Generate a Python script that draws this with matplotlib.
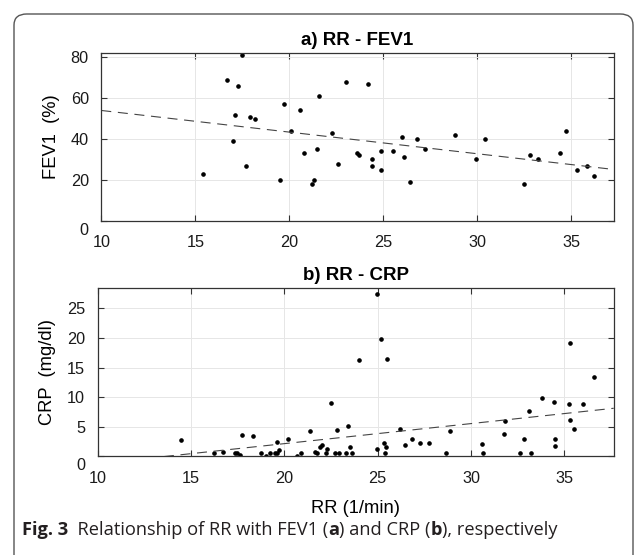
import matplotlib
matplotlib.use("Agg")
import matplotlib.pyplot as plt
import numpy as np
from matplotlib.patches import FancyBboxPatch
import matplotlib.transforms as mtransforms

# ---------------- data ----------------
rr_a = [17.5, 16.69, 17.29, 17.1, 17.9, 18.19, 16.99, 17.68, 15.39, 19.7, 20.59, 20.11,
        19.49, 21.6, 20.8, 21.5, 22.59, 22.29, 21.3, 21.19, 23.02, 24.2, 23.58, 23.7,
        24.4, 24.4, 24.89, 24.89, 25.5, 26.0, 26.1, 26.4, 26.8, 27.2, 28.81, 29.91,
        30.41, 32.5, 32.8, 33.21, 34.4, 34.72, 35.32, 35.82, 36.22]
fev1 = [81, 69, 66, 52, 51, 50, 39, 27, 23, 57, 54, 44,
        20, 61, 33, 35, 28, 43, 20, 18, 68, 67, 33, 32,
        30, 27, 34, 25, 34, 41, 31, 19, 40, 35, 42, 30,
        40, 18, 32, 30, 33, 44, 25, 27, 22]

rr_b = [24.98, 23.98, 22.5, 21.39, 22.81, 23.4, 17.73, 18.34, 14.45, 20.21,
        25.2, 25.5, 35.3, 36.6, 33.82, 34.43, 35.23, 36.0, 33.12, 35.3, 35.52,
        31.84, 26.18, 28.86, 31.75, 26.86, 32.82, 34.5,
        19.62, 16.25, 16.73, 17.36, 17.45, 17.63, 18.74, 19.02, 19.23, 19.52, 19.6,
        19.73, 20.66, 20.91,
        21.64, 21.77, 21.9, 22.02, 22.23, 22.3, 22.72, 22.93, 23.29, 23.5, 23.6,
        24.98, 25.32, 25.43, 25.4, 26.48, 27.27, 27.77, 28.66,
        30.57, 30.66, 32.64, 33.23, 34.5]
crp = [27.5, 16.3, 9.0, 4.3, 4.5, 5.1, 3.6, 3.4, 2.8, 2.9,
       19.8, 16.5, 19.1, 13.4, 9.9, 9.2, 8.8, 8.8, 7.7, 6.2, 4.6,
       5.9, 4.6, 4.3, 3.8, 3.0, 3.0, 3.0,
       2.5, 0.5, 0.8, 0.5, 0.5, 0.27, 0.5, 0.1, 0.5, 0.5, 0.56,
       1.06, 0.1, 0.6,
       0.8, 0.5, 1.5, 1.9, 0.6, 1.2, 0.5, 0.5, 0.5, 1.6, 0.5,
       1.2, 2.2, 1.5, 0.5, 1.9, 2.2, 2.25, 0.5,
       2.1, 0.5, 0.5, 0.5, 1.7]

# regression lines: (value at RR=10, slope)
fit_a = (54.0, -1.06)
fit_b = (-1.25, 0.339)

yticks_a = [0, 20, 40, 60, 80]
yticks_b = [0, 5, 10, 15, 20, 25]
xticks = [10, 15, 20, 25, 30, 35]

title_a = "a) RR - FEV1"
title_b = "b) RR - CRP"
ylabel_a = "FEV1  (%)"
ylabel_b = "CRP  (mg/dl)"
xlabel_b = "RR (1/min)"

# ---------------- figure ----------------
W, H = 635, 555
fig = plt.figure(figsize=(W / 100, H / 100), dpi=100)
fig.patch.set_facecolor("white")

frame = FancyBboxPatch((14 / W, -20 / H), (W - 14 - 2) / W, (H - 14 + 20) / H,
                       boxstyle="round,pad=0,rounding_size=0.02",
                       transform=fig.transFigure, facecolor="none",
                       edgecolor="#555555", linewidth=1.0, clip_on=False)
fig.patches.append(frame)

SANS = ["Liberation Sans", "DejaVu Sans"]
TICK = 11.7
LAB = 13.2


def style(ax, ylim, yticks, xlim):
    ax.set_xlim(*xlim)
    ax.set_ylim(*ylim)
    ax.set_xticks(xticks)
    ax.set_yticks(yticks)
    ax.grid(True, color="#e6e6e6", linewidth=0.7)
    ax.set_axisbelow(True)
    ax.tick_params(direction="in", top=True, right=True, length=4, width=0.8,
                   color="#333333", labelsize=TICK)
    ax.tick_params(axis="y", pad=9)
    ax.tick_params(axis="x", pad=10.5)
    for lab in ax.get_xticklabels() + ax.get_yticklabels():
        lab.set_family(SANS)
        lab.set_color("#1a1a1a")
    for s in ax.spines.values():
        s.set_color("#333333")
        s.set_linewidth(0.9)
    lab0 = ax.get_yticklabels()[0]
    off = mtransforms.ScaledTranslation(0, -8 / 100, fig.dpi_scale_trans)
    lab0.set_transform(lab0.get_transform() + off)


ax1 = fig.add_axes([101.3 / W, (H - 220.7) / H, 512.4 / W, 167.4 / H])
style(ax1, (0, 82), yticks_a, (10, 37.26))
ax1.plot(rr_a, fev1, "o", color="black", markersize=2.3, linestyle="none")
xs = np.array(ax1.get_xlim())
ax1.plot(xs, fit_a[0] + fit_a[1] * (xs - 10), color="#444444", linewidth=0.8,
         dashes=(9, 6))
ax1.set_title(title_a, fontsize=13.5, fontweight="bold", family=SANS, pad=6)
ax1.set_ylabel(ylabel_a, fontsize=LAB, family=SANS, labelpad=8)

ax2 = fig.add_axes([97.6 / W, (H - 456.3) / H, 516.1 / W, 168 / H])
style(ax2, (0, 28.4), yticks_b, (10, 37.64))
ax2.plot(rr_b, crp, "o", color="black", markersize=2.3, linestyle="none")
xs = np.array(ax2.get_xlim())
ax2.plot(xs, fit_b[0] + fit_b[1] * (xs - 10), color="#444444", linewidth=0.8,
         dashes=(9, 6))
ax2.set_title(title_b, fontsize=13.5, fontweight="bold", family=SANS, pad=6)
ax2.set_ylabel(ylabel_b, fontsize=LAB, family=SANS, labelpad=8)
ax2.set_xlabel(xlabel_b, fontsize=LAB, family=SANS, labelpad=10)

# caption with mixed weights, sized to span the reference width
pieces = [("Fig. 3", "bold"), ("  Relationship of RR with FEV1 (", "normal"),
          ("a", "bold"), (") and CRP (", "normal"), ("b", "bold"),
          ("), respectively", "normal")]
renderer = fig.canvas.get_renderer()
x0, x1 = 22, 560
base = 10.0
tot = 0
for txt, wt in pieces:
    t = fig.text(0, 0, txt, fontsize=base, fontweight=wt,
                 family=["Open Sans", "DejaVu Sans"])
    tot += t.get_window_extent(renderer=renderer).width
    t.remove()
size = base * (x1 - x0) / tot
x = x0
for txt, wt in pieces:
    t = fig.text(x / W, (H - 530) / H, txt, fontsize=size, fontweight=wt,
                 family=["Open Sans", "DejaVu Sans"], color="#231f20",
                 va="center", ha="left")
    x += t.get_window_extent(renderer=renderer).width

fig.savefig("out.png", dpi=100)
